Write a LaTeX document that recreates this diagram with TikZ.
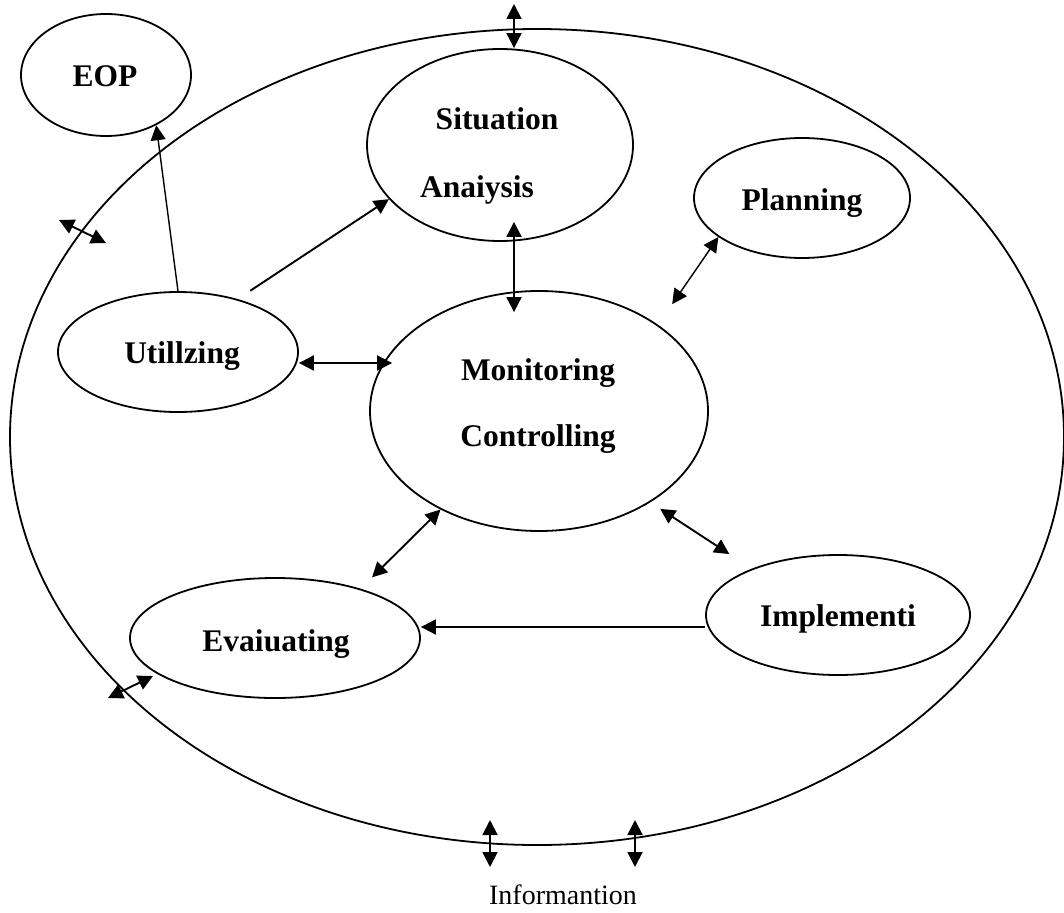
\documentclass[tikz,border=0pt]{standalone}
\usepackage{fontspec}
\setmainfont{Liberation Serif}
\usetikzlibrary{shapes.geometric,arrows.meta,positioning}

\tikzset{
	oval/.style={draw, ellipse, line width=1.8pt, inner sep=0pt},
	tag/.style={anchor=base, inner sep=0pt, font=\fontsize{31.5}{38}\selectfont\bfseries},
	arr/.style={line width=1.9pt, -{Triangle[length=15pt,width=15pt]}},
	dbl/.style={line width=1.9pt, {Triangle[length=15pt,width=15pt]}-{Triangle[length=15pt,width=15pt]}},
}

\begin{document}
\begin{tikzpicture}[x=1pt,y=-1pt]
	\useasboundingbox (0,0) rectangle (1064,912);
	
	% outer boundary
	\node[oval, minimum width=1054pt, minimum height=816pt] (env) at (537,437) {};
	
	% the stages
	\node[oval, minimum width=170pt, minimum height=122pt] (eop) at (106,75) {};
	\node[tag] (eoptext) at (105,87) {EOP};
	
	\node[oval, minimum width=266pt, minimum height=192pt] (sa) at (500,145) {};
	\node[tag] (satext1) at (497,130) {Situation};
	\node[tag] (satext2) at (477,197) {Anaiysis};
	
	\node[oval, minimum width=216pt, minimum height=120pt] (pl) at (802,198) {};
	\node[tag] (pltext) at (802,210) {Planning};
	
	\node[oval, minimum width=240pt, minimum height=120pt] (ut) at (178,352) {};
	\node[tag] (uttext) at (182,363) {Utillzing};
	
	\node[oval, minimum width=338pt, minimum height=240pt] (mc) at (539,411) {};
	\node[tag] (mctext1) at (538,380) {Monitoring};
	\node[tag] (mctext2) at (538,446) {Controlling};
	
	\node[oval, minimum width=290pt, minimum height=120pt] (ev) at (275,638) {};
	\node[tag] (evtext) at (276,651) {Evaiuating};
	
	\node[oval, minimum width=264pt, minimum height=120pt] (im) at (838,615) {};
	\node[tag] (imtext) at (838,626) {Implementi};
	
	\node[anchor=base, inner sep=0pt, font=\fontsize{28}{34}\selectfont] (info) at (563,904) {Informantion};
	
	% free ends
	\coordinate (topio) at (514,4);
	\coordinate (lf1) at (59,220);
	\coordinate (lf2) at (106,243);
	\coordinate (ev1) at (108,698);
	\coordinate (ev2) at (153,676);
	\coordinate (io1a) at (490,820);
	\coordinate (io1b) at (490,867);
	\coordinate (io2a) at (635,820);
	\coordinate (io2b) at (635,867);
	
	% connectors
	\draw[dbl] (topio) -- (topio |- sa.north);
	\draw[dbl] ([shift={(14pt,20pt)}]sa.south) -- ([shift={(-25pt,-22pt)}]mc.north);
	\draw[arr] ([shift={(10pt,9pt)}]ut.40) -- (sa.206);
	\draw[arr, line width=1.4pt] (ut.north) -- (eop.-45);
	\draw[dbl] (lf1) -- (lf2);
	\draw[dbl, line width=1.4pt] (pl.205) -- ([shift={(21pt,16pt)}]mc.39);
	\draw[dbl] ([yshift=-11pt]ut.east) -- ([shift={(23pt,48pt)}]mc.west);
	\draw[dbl] ([shift={(16pt,10pt)}]ev.32) -- (mc.225);
	\draw[dbl] ([shift={(9pt,-7pt)}]mc.-39) -- ([shift={(-24pt,14pt)}]im.151);
	\draw[arr] ([yshift=-12pt]im.west) -- ([yshift=-12pt]im.west -| ev.east);
	\draw[dbl] (ev1) -- (ev2);
	\draw[dbl] (io1a) -- (io1b);
	\draw[dbl] (io2a) -- (io2b);
\end{tikzpicture}
\end{document}
